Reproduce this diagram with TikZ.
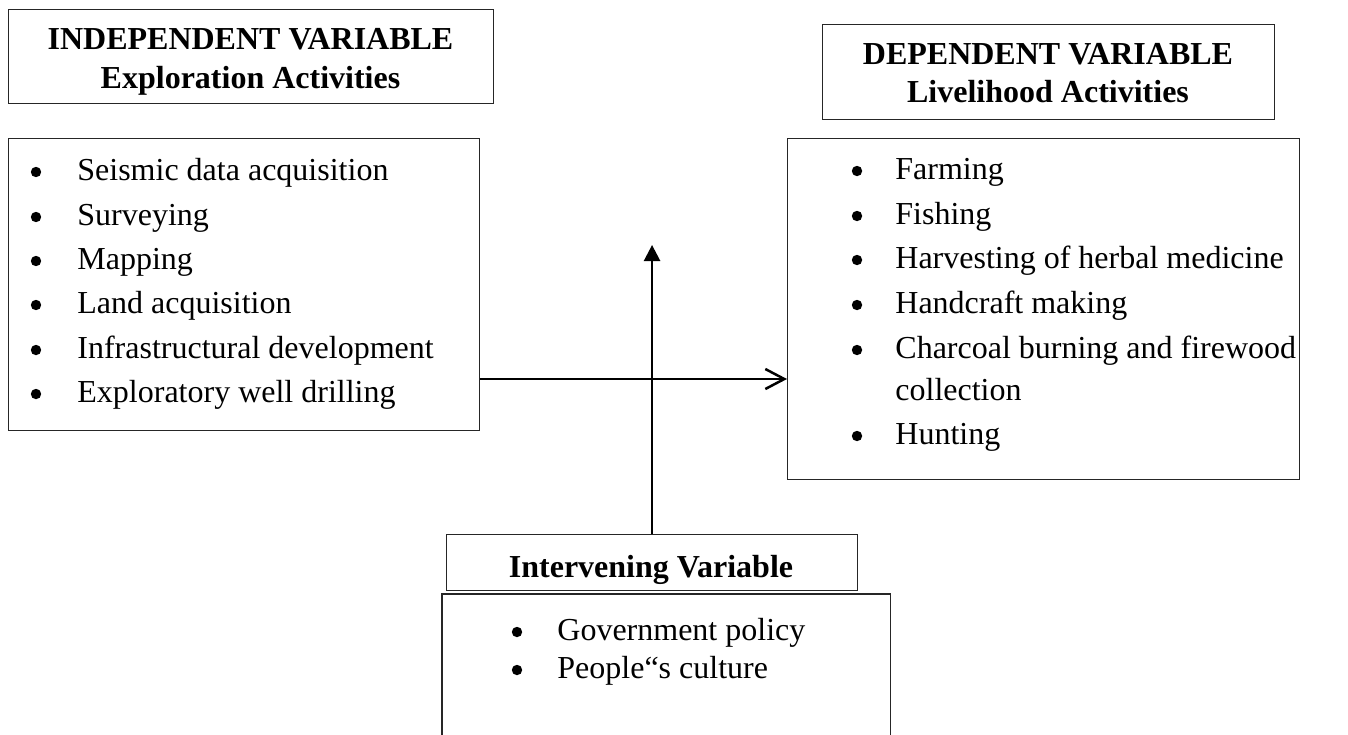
\documentclass[tikz,border=0pt]{standalone}
\usepackage{fontspec}
\setmainfont{Liberation Serif}
\usetikzlibrary{arrows.meta}
\begin{document}
\begin{tikzpicture}[x=0.5pt,y=-0.5pt,
  box/.style={draw=black!85, line width=0.55pt, inner sep=0pt, anchor=north west},
  openbox/.style={inner sep=0pt, anchor=north west},
  item/.style={inner sep=0pt, anchor=base west, font=\fontsize{16}{19}\selectfont},
  dot/.style={circle, fill=black, inner sep=0pt, minimum size=5.2pt},
  ttl/.style={inner sep=0pt, anchor=base, font=\fontsize{16}{19}\selectfont\bfseries},
  conn/.style={line width=1.25pt, black}]
\useasboundingbox (0,0) rectangle (1348,734);

% boxes
\node[box, minimum width=242.5pt, minimum height=47pt] (indttl) at (8,9) {};
\node[box, minimum width=235.5pt, minimum height=146pt] (indlist) at (8,138) {};
\node[box, minimum width=226pt, minimum height=47.5pt] (depttl) at (822,24) {};
\node[box, minimum width=256pt, minimum height=170.5pt] (deplist) at (787,138) {};
\node[box, minimum width=205.5pt, minimum height=28pt] (intttl) at (446,534) {};
\node[openbox, minimum width=224pt, minimum height=70pt] (intlist) at (442,594) {};
\draw[draw=black!85, line width=0.55pt] (intlist.south west) -- (intlist.north west) -- (intlist.north east) -- (intlist.south east);

% titles
\node[ttl] (t1a) at (250.5,49) {INDEPENDENT VARIABLE};
\node[ttl] (t1b) at (250.5,88) {Exploration Activities};
\node[ttl] (t2a) at (1048,64) {DEPENDENT VARIABLE};
\node[ttl] (t2b) at (1048,102) {Livelihood Activities};
\node[ttl] (t3) at (651,577) {Intervening Variable};

% independent list
\foreach \y/\t [count=\i] in {180/Seismic data acquisition, 225/Surveying, 269/Mapping, 313/Land acquisition, 358/Infrastructural development, 402/Exploratory well drilling}{
  \node[dot] (ib\i) at (36,\y-8) {};
  \node[item] (it\i) at (77,\y) {\t};
}

% dependent list
\foreach \y/\t [count=\i] in {179/Farming, 224/Fishing, 268/Harvesting of herbal medicine, 313/Handcraft making, 358/Charcoal burning and firewood, 444/Hunting}{
  \node[dot] (db\i) at (857,\y-8) {};
  \node[item] (dt\i) at (895,\y) {\t};
}
\node[item] (dt7) at (895,400) {collection};

% intervening list
\node[dot] (vb1) at (517,632) {};
\node[item] (vt1) at (557,640) {Government policy};
\node[dot] (vb2) at (517,670) {};
\node[item] (vt2) at (557,678) {People“s culture};

% connectors
\coordinate (hy) at (0,379);
\coordinate (vtop) at (0,245);
\draw[conn, -{Straight Barb[length=9.5pt,width=10pt]}] (indlist.east |- hy) -- (deplist.west |- hy);
\draw[conn, -{Triangle[length=8pt,width=8pt]}] (intttl.north) -- (intttl.north |- vtop);
\end{tikzpicture}
\end{document}
